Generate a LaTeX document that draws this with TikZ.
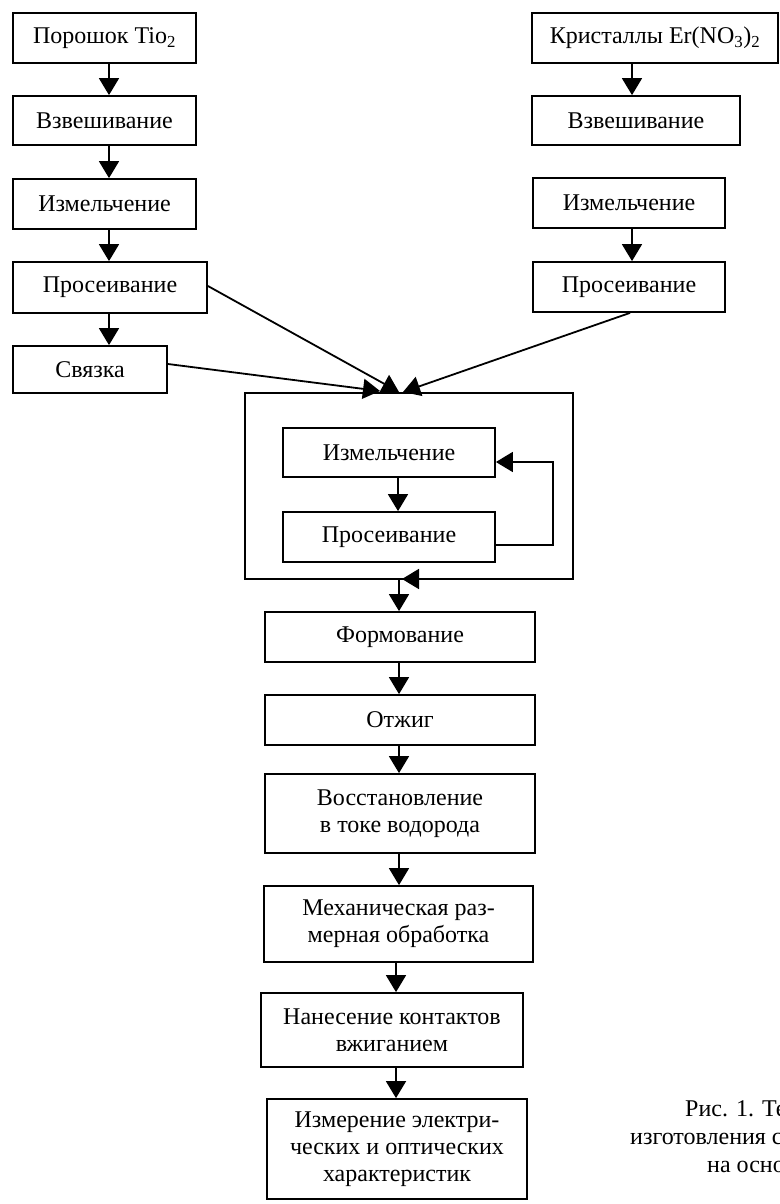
\documentclass[tikz,border=0pt]{standalone}
\usepackage{fontspec}
\setmainfont{Liberation Serif}
\usetikzlibrary{arrows.meta,calc}
\begin{document}
\begin{tikzpicture}[x=1pt,y=-1pt,
  box/.style={draw,line width=1.8pt,inner sep=0pt,align=center,font=\fontsize{24}{27}\selectfont},
  arr/.style={line width=1.8pt,-{Triangle[length=17pt,width=20pt]}},
  captext/.style={anchor=base west,inner sep=0pt,font=\fontsize{24}{28}\selectfont}]
\useasboundingbox (0,0) rectangle (779,1204);
% left column
\node[box,minimum width=183pt,minimum height=50pt] (p1) at (104.5,38) {Порошок Tio\textsubscript{2}};
\node[box,minimum width=183pt,minimum height=49pt] (p2) at (104.5,120.5) {Взвешивание};
\node[box,minimum width=183pt,minimum height=50pt] (p3) at (104.5,204) {Измельчение};
\node[box,minimum width=194pt,minimum height=51pt] (p4) at (110,287.5) {Просеивание};
\node[box,minimum width=154pt,minimum height=47pt] (p5) at (90,369.5) {Связка};
\coordinate (lx) at (109,0);
\draw[arr] (p1.south -| lx) -- (p2.north -| lx);
\draw[arr] (p2.south -| lx) -- (p3.north -| lx);
\draw[arr] (p3.south -| lx) -- (p4.north -| lx);
\draw[arr] (p4.south -| lx) -- (p5.north -| lx);
% right column
\node[box,minimum width=246pt,minimum height=50pt] (r1) at (655,38) {Кристаллы Er(NO\textsubscript{3})\textsubscript{2}};
\node[box,minimum width=208pt,minimum height=49pt] (r2) at (636,120.5) {Взвешивание};
\node[box,minimum width=192pt,minimum height=50pt] (r3) at (629,203) {Измельчение};
\node[box,minimum width=192pt,minimum height=50pt] (r4) at (629,287) {Просеивание};
\coordinate (rx) at (632,0);
\draw[arr] (r1.south -| rx) -- (r2.north -| rx);
\draw[arr] (r3.south -| rx) -- (r4.north -| rx);
% big box
\node[draw,line width=1.8pt,minimum width=328pt,minimum height=186pt,inner sep=0pt] (big) at (409,486) {};
\node[box,minimum width=212pt,minimum height=49pt] (i1) at (389,452.5) {Измельчение};
\node[box,minimum width=212pt,minimum height=50pt] (i2) at (389,537) {Просеивание};
\coordinate (ix) at (398,0);
\draw[arr] (i1.south -| ix) -- (i2.north -| ix);
\coordinate (lpA) at (553,545);
\coordinate (lpB) at (553,462);
\draw[arr] (i2.east |- lpA) -- (lpA) -- (lpB) -- (i1.east |- lpB);
% inputs to big box
\coordinate (t1) at (380,391);
\coordinate (t2) at (399,392);
\coordinate (t3) at (403,392);
\draw[arr] (p5.east |- 0,364) -- (t1);
\draw[arr] (p4.east |- 0,286) -- (t2);
\draw[arr] (r4.south -| 630,0) -- (t3);
% bottom edge arrowhead
\coordinate (bA) at (424,579);
\coordinate (bB) at (402,579);
\draw[arr] (bA) -- (bB);
% lower column
\node[box,minimum width=270pt,minimum height=50pt] (f1) at (400,637) {Формование};
\node[box,minimum width=270pt,minimum height=50pt] (f2) at (400,720) {Отжиг};
\node[box,minimum width=270pt,minimum height=79pt] (f3) at (400,813.5) {Восстановление\\в токе водорода};
\node[box,minimum width=269pt,minimum height=76pt] (f4) at (398.5,924) {Механическая раз-\\мерная обработка};
\node[box,minimum width=262pt,minimum height=74pt] (f5) at (392,1030) {Нанесение контактов\\вжиганием};
\node[box,minimum width=260pt,minimum height=100pt] (f6) at (397,1149) {Измерение электри-\\ческих и оптических\\характеристик};
\coordinate (fx) at (399,0);
\coordinate (gx) at (396,0);
\draw[arr] (big.south -| fx) -- (f1.north -| fx);
\draw[arr] (f1.south -| fx) -- (f2.north -| fx);
\draw[arr] (f2.south -| fx) -- (f3.north -| fx);
\draw[arr] (f3.south -| fx) -- (f4.north -| fx);
\draw[arr] (f4.south -| gx) -- (f5.north -| gx);
\draw[arr] (f5.south -| gx) -- (f6.north -| gx);
% caption (cut at the right edge, as in the reference)
\node[captext] (c1) at (685,1116) {Рис. 1. Те};
\node[captext] (c2) at (630,1144) {изготовления с};
\node[captext] (c3) at (707,1172) {на осно};
\end{tikzpicture}
\end{document}
